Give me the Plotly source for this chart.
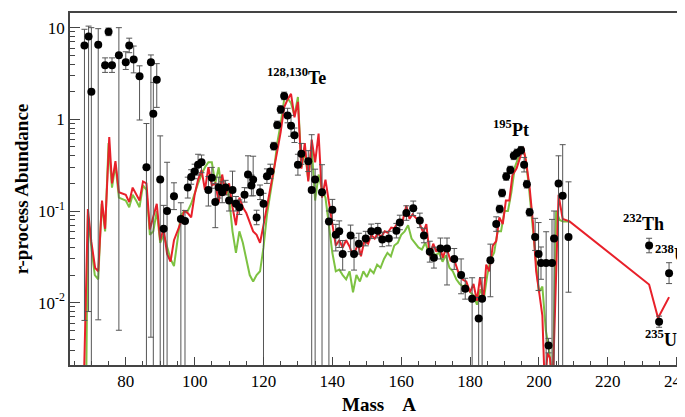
import plotly.graph_objects as go
import numpy as np

mass_pts = [68,69.2,70,72,74,75,76,78,80,81,82.3,84,86,87.3,88,89,90,91,92,94,96,97.2,98,99,100,101,102,104,105,106,107,108,109,110,111,112,113,114.5,115.5,116.5,117,118,119,120,121,122,123,124,125,126,127,128,129,130,131,133,134,135,137,139,140,141,142,143,145.3,146.3,147.7,149.7,151.3,153.2,154.5,156.4,158.6,159.6,161.5,163.5,165.4,166.6,168.3,169.5,171.4,173.3,175.4,177.4,178.6,180.6,182.5,183.5,185.9,187.6,188.6,189.3,190.5,191.7,192.7,193.6,194.8,195.7,196.5,197.3,198.9,199.9,200.6,202.1,202.8,203.8,204.4,205.7,206.9,208.6,232,234.9,237.8]
abund_pts = [6.4,8,2,6.5,3.9,9,3.9,5,4.2,6.4,4.5,2.95,0.3,4.2,1.15,2.7,0.22,0.064,0.1,0.145,0.082,0.078,0.18,0.235,0.27,0.32,0.34,0.17,0.23,0.125,0.18,0.16,0.18,0.13,0.17,0.12,0.11,0.15,0.25,0.19,0.22,0.085,0.16,0.12,0.24,0.27,0.51,0.87,1.28,1.8,1.1,0.85,0.67,0.32,0.42,0.35,0.17,0.22,0.16,0.077,0.103,0.055,0.06,0.034,0.054,0.034,0.044,0.05,0.06,0.061,0.049,0.05,0.061,0.075,0.095,0.107,0.079,0.054,0.036,0.031,0.039,0.039,0.03,0.02,0.0142,0.011,0.0067,0.011,0.029,0.072,0.105,0.157,0.238,0.28,0.40,0.43,0.46,0.32,0.196,0.097,0.052,0.034,0.027,0.027,0.0034,0.027,0.05,0.2,0.147,0.052,0.042,0.0062,0.021]
err_up_fac = [1.5,1.3,5,1.5,1.2,1.1,1.2,2,1.3,1.2,1.4,1.3,3,1.2,2.2,1.5,3,1.8,3.4,1.4,1.5,1.3,1.3,1.2,1.2,1.3,1.2,1.4,1.3,1.6,1.3,1.3,1.2,1.3,1.6,1.2,1.2,1.2,1.6,1.3,1.8,1.2,1.2,1.3,1.2,1.2,1.1,1.1,1.1,1.1,1.2,1.3,1.2,1.3,1.3,1.3,4,1.3,2,1.3,1.3,1.3,1.3,1.4,1.3,1.5,1.3,1.2,1.2,1.2,1.2,1.2,1.2,1.2,1.2,1.2,1.2,1.2,1.3,1.3,1.3,1.3,1.3,1.5,1.3,1.7,1.7,1.7,1.5,1.2,1.1,1.1,1.1,1.1,1.1,1.1,1.1,1.2,1.1,1.1,1.6,2.2,1.5,2.2,1.2,3,2,2,3.6,4,1.2,1.15,1.3]
err_dn_fac = [1000,1000,1000,1000,1.2,1.1,1.2,1000,1.2,1.2,1.4,3,1000,1000,1000,2,1000,1000,1000,1.4,1000,1000,1.3,1.2,1.2,1.3,1.3,1.5,1.3,1.9,1.3,1.3,1.2,1.3,1.3,1.2,1.2,1.2,1.4,1.3,1.5,1.2,1.2,1000,1.2,1.2,1.1,1.1,1.1,1.1,1.2,1.3,1.2,1.3,1.3,1.3,1000,1000,1000,1000,1.3,1.5,1.5,1.5,1.5,1.5,1.3,1.2,1.2,1.2,1.2,1.2,1.2,1.2,1.2,1.2,1.2,1.2,1.3,1.3,1.3,2.5,1.3,1.6,1.3,1000,1000,1000,2.5,1.2,1.1,1.1,1.1,1.1,1.1,1.1,1.1,1.2,1.1,1.1,1.4,2.5,1.5,1000,1.2,1000,1000,1000,1000,4,1.2,1.15,1.3]

red_mass = [66.8,67.8,69,70,71.1,72,73.1,74,75.2,76,77,78,80,81,82,83,84,85,86,87,89,90,91,92,93,94,96,97,98,99,100,101,102,103,104,105,106,107,108,109,110,111,112,113,114,115,116,117,118,119,120,121,122,123,124,125,126,127,128,129,130,131,132,133,134,135,136,137,138,139,140,141,142,143,144,145,146,147.5,148.3,149.3,150.4,151.3,152.3,153.2,154.2,155.2,156.1,157.1,158,159,160.2,161.5,162.4,163.3,164.5,165.4,166.4,167.3,168.3,169.3,170.2,171.2,172.1,173.1,174.3,175.2,176.5,177.7,178.9,180,181,182,182.9,183.9,184.7,185.6,186.6,187.6,188.5,189.5,190.4,191.4,192.3,193.5,194.4,195.4,196.3,197.3,198.3,199.2,200.2,201,201.7,202.5,203.2,204,205.7,206.9,208.9,232,234.6,237.8]
red_abund = [0.0012,0.0012,0.105,0.046,0.024,0.022,0.13,0.064,0.64,0.2,0.35,0.16,0.15,0.125,0.18,0.15,0.13,0.21,0.2,0.063,0.12,0.048,0.064,0.034,0.028,0.048,0.075,0.1,0.095,0.085,0.15,0.22,0.28,0.17,0.3,0.19,0.2,0.125,0.25,0.15,0.2,0.11,0.07,0.14,0.11,0.095,0.075,0.06,0.055,0.045,0.07,0.11,0.17,0.27,0.45,0.73,1.35,1.65,1.9,1.05,1.55,0.29,0.55,0.21,0.6,0.34,0.7,0.14,0.22,0.125,0.07,0.042,0.048,0.04,0.048,0.041,0.032,0.044,0.032,0.047,0.044,0.055,0.05,0.057,0.052,0.06,0.058,0.066,0.065,0.075,0.072,0.115,0.082,0.092,0.082,0.072,0.058,0.072,0.032,0.044,0.036,0.041,0.031,0.04,0.029,0.031,0.022,0.018,0.017,0.013,0.016,0.0105,0.019,0.011,0.026,0.022,0.042,0.047,0.085,0.072,0.13,0.13,0.245,0.29,0.37,0.5,0.34,0.18,0.072,0.022,0.012,0.0072,0.0012,0.0028,0.0025,0.0012,0.15,0.082,0.077,0.0158,0.0068,0.0115]

green_mass = [68.5,69,70,71,72,73,74,75,76,77,78,80,81,82,83,84,85,86,87,88,89,90,91,92,93,94,95,96,97,98,99,100,101,102,103,104,105,106,107,108,109,110,111,112,113,114,115,116,117,118,119,120,121,122,123,124,125,126,127,128,129,130,131,132,133,134,135,136,137,138,139,140,141,142,143,144,145,146,147,148,149,150,151,152,153,154,155,156,157,158,159,160,161,162,163,164,165,166,167,168,169,170,171,172,173,174,175,176,177,178,179,180,181,182,183,184,185,186,187,188,189,190,191,192,193,194,195,196,197,198,199,200,201,202,203,204,205,206,207,209]
green_abund = [0.0012,0.09,0.04,0.02,0.018,0.12,0.06,0.55,0.18,0.32,0.14,0.13,0.11,0.15,0.13,0.11,0.19,0.17,0.055,0.06,0.1,0.045,0.055,0.04,0.03,0.025,0.045,0.09,0.1,0.1,0.12,0.16,0.2,0.25,0.3,0.34,0.34,0.2,0.3,0.15,0.2,0.14,0.06,0.035,0.06,0.045,0.03,0.02,0.017,0.02,0.022,0.04,0.09,0.16,0.27,0.55,0.9,1.65,1.7,1.5,1.1,1.75,0.3,0.45,0.22,0.5,0.13,0.25,0.17,0.14,0.07,0.035,0.022,0.023,0.02,0.018,0.022,0.013,0.02,0.017,0.022,0.019,0.023,0.021,0.026,0.024,0.03,0.035,0.032,0.042,0.045,0.055,0.06,0.07,0.05,0.045,0.04,0.038,0.045,0.035,0.036,0.033,0.035,0.028,0.033,0.024,0.022,0.018,0.016,0.015,0.016,0.013,0.012,0.0095,0.014,0.011,0.02,0.03,0.035,0.06,0.06,0.1,0.1,0.16,0.3,0.38,0.5,0.4,0.2,0.08,0.03,0.013,0.015,0.005,0.003,0.0012,0.1,0.08,0.077,0.077]

y = np.array(abund_pts)
e_plus = y * (np.array(err_up_fac) - 1)
e_minus = y * (1 - 1 / np.array(err_dn_fac))

FONT = "Liberation Serif"
fig = go.Figure()
fig.add_trace(go.Scatter(x=green_mass, y=green_abund, mode="lines",
                         line=dict(color="#7dc242", width=2)))
fig.add_trace(go.Scatter(x=red_mass, y=red_abund, mode="lines",
                         line=dict(color="#e8202a", width=2)))
fig.add_trace(go.Scatter(x=mass_pts, y=abund_pts, mode="markers",
                         marker=dict(color="black", size=8),
                         error_y=dict(type="data", symmetric=False, array=e_plus, arrayminus=e_minus,
                                      color="#555555", thickness=1, width=3)))

ann = [("<sup>128,130</sup>Te", 129.5, 2.9), ("<sup>195</sup>Pt", 192, 0.8),
       ("<sup>232</sup>Th", 230.5, 0.075), ("<sup>238</sup>U", 238.5, 0.034),
       ("<sup>235</sup>U", 235.5, 0.0041)]
for t, ax_, ay_ in ann:
    fig.add_annotation(x=ax_, y=np.log10(ay_), text="<b>" + t + "</b>", showarrow=False,
                       font=dict(family=FONT, size=18, color="black"))

minor_vals = [m * 10.0 ** d for d in range(-3, 2) for m in range(2, 10)]

fig.update_layout(
    width=685, height=417, showlegend=False,
    margin=dict(l=62, r=4, t=3, b=60),
    plot_bgcolor="white", paper_bgcolor="white",
    font=dict(family=FONT, color="black"),
)
fig.update_xaxes(range=[63.8, 243.3], tickvals=[80,100,120,140,160,180,200,220,240],
                 ticks="inside", ticklen=8, mirror=True, showline=True, linecolor="#444",
                 linewidth=1.5, showgrid=False, zeroline=False,
                 minor=dict(ticks="inside", ticklen=4, tickvals=list(range(65, 245, 5))),
                 tickfont=dict(size=17, family=FONT),
                 title=dict(text="<b>Mass    A</b>", font=dict(size=19, family=FONT), standoff=8))
fig.update_yaxes(type="log", range=[-2.68, 1.16], tickvals=[0.01, 0.1, 1, 10],
                 ticktext=["10<sup>-2</sup>", "10<sup>-1</sup>", "1", "10"],
                 ticks="inside", ticklen=10, mirror=True, showline=True, linecolor="#444",
                 linewidth=1.5, showgrid=False, zeroline=False,
                 minor=dict(ticks="inside", ticklen=5, tickvals=minor_vals),
                 tickfont=dict(size=17, family=FONT),
                 title=dict(text="<b>r-process Abundance</b>", font=dict(size=19, family=FONT), standoff=4))
fig.write_html("out.html")
